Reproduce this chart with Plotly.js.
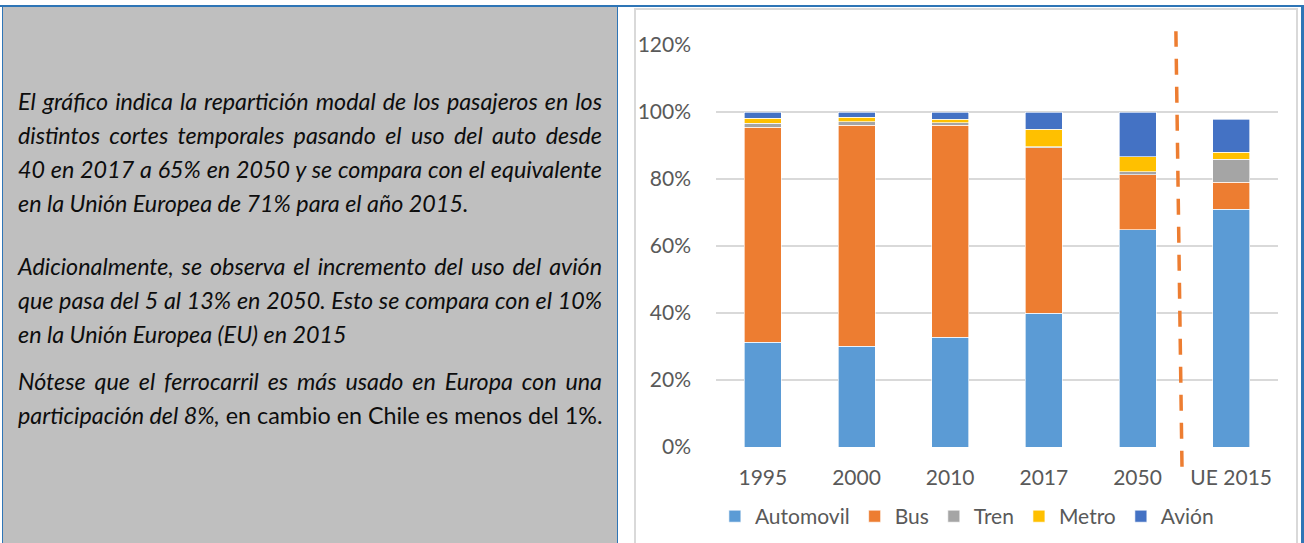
<!DOCTYPE html>
<html>
<head>
<meta charset="utf-8">
<script src="https://cdn.plot.ly/plotly-3.0.1.min.js"></script>
<style>
  html, body { margin:0; padding:0; background:#ffffff; }
  #wrap { position:relative; width:1304px; height:543px; overflow:hidden; background:#ffffff; }
  .bg { position:absolute; }
  #topline { left:0; top:5px; width:1304px; height:2px; background:#2E75B6; }
  #panel { left:2px; top:7px; width:614px; height:540px; background:#BFBFBF; border-left:1.5px solid #2E75B6; border-right:1.5px solid #2E75B6; }
  #chartbox { left:634px; top:8px; width:660px; height:540px; border:2px solid #D9D9D9; background:#ffffff; }
  #rightline { left:1301px; top:5px; width:3px; height:538px; background:#2E75B6; }
  #plot { position:absolute; left:0; top:0; width:1304px; height:543px; }
  .ln { position:absolute; left:18px; width:584px; height:34px; line-height:34px;
        font-family: Lato, "Open Sans", sans-serif; font-size:23.3px; color:#0d0d0d;
        font-style:italic; text-align:justify; text-align-last:justify; white-space:nowrap; }
  .ln.last { text-align:left; text-align-last:left; }
  .up { font-style:normal; }
</style>
</head>
<body>
<div id="wrap">
  <div class="bg" id="topline"></div>
  <div class="bg" id="panel"></div>
  <div class="bg" id="chartbox"></div>
  <div class="bg" id="rightline"></div>
  <div id="plot"></div>
  <div class="ln" style="top:84px">El gráfico indica la repartición modal de los pasajeros en los</div>
  <div class="ln" style="top:118px">distintos cortes temporales pasando el uso del auto desde</div>
  <div class="ln" style="top:152px">40 en 2017 a 65% en 2050 y se compara con el equivalente</div>
  <div class="ln last" style="top:186px">en la Unión Europea de 71% para el año 2015.</div>
  <div class="ln" style="top:249px">Adicionalmente, se observa el incremento del uso del avión</div>
  <div class="ln" style="top:283px">que pasa del 5 al 13% en 2050. Esto se compara con el 10%</div>
  <div class="ln last" style="top:317px">en la Unión Europea (EU) en 2015</div>
  <div class="ln" style="top:364px">Nótese que el ferrocarril es más usado en Europa con una</div>
  <div class="ln last" style="top:398px">participación del 8%,<span class="up"> en cambio en Chile es menos del 1%.</span></div>
</div>
<script>
const categories = ['1995', '2000', '2010', '2017', '2050', 'UE 2015'];
const automovil = [0.312, 0.301, 0.327, 0.400, 0.648, 0.709];
const bus       = [0.643, 0.660, 0.634, 0.494, 0.165, 0.081];
const tren      = [0.011, 0.010, 0.007, 0.003, 0.008, 0.069];
const metro     = [0.016, 0.013, 0.011, 0.051, 0.045, 0.021];
const avion     = [0.018, 0.016, 0.021, 0.052, 0.134, 0.099];
const yTicks = [0, 0.2, 0.4, 0.6, 0.8, 1.0, 1.2];
const yTickLabels = ['0%', '20%', '40%', '60%', '80%', '100%', '120%'];

const seriesNames = ['Automovil', 'Bus', 'Tren', 'Metro', 'Avión'];
const seriesValues = [automovil, bus, tren, metro, avion];
const seriesColors = ['#5B9BD5', '#ED7D31', '#A5A5A5', '#FFC000', '#4472C4'];

const traces = seriesNames.map((n, i) => ({
  type: 'bar', name: n, x: categories, y: seriesValues[i],
  marker: { color: seriesColors[i], line: { color: 'rgba(255,255,255,0.8)', width: 0.8 } },
  hoverinfo: 'skip'
}));

const fontFam = 'Lato, "Open Sans", sans-serif';
const layout = {
  width: 1304, height: 543,
  margin: { l: 716, r: 26, t: 44.7, b: 95.7, pad: 0, autoexpand: false },
  paper_bgcolor: 'rgba(0,0,0,0)', plot_bgcolor: 'rgba(0,0,0,0)',
  barmode: 'stack', bargap: 0.605,
  showlegend: true,
  legend: { orientation: 'h', x: -0.002, xanchor: 'left', y: -0.173, yanchor: 'middle',
            font: { family: fontFam, size: 21, color: '#595959' }, traceorder: 'normal',
            bgcolor: 'rgba(0,0,0,0)' },
  xaxis: { type: 'category', tickfont: { family: fontFam, size: 21, color: '#595959' },
           showgrid: false, zeroline: false, showline: false, ticks: '', ticklabelstandoff: 16 },
  yaxis: { range: [0, 1.2], tickvals: yTicks, ticktext: yTickLabels,
           tickfont: { family: fontFam, size: 21, color: '#595959' },
           showgrid: true, gridcolor: '#D9D9D9', gridwidth: 1.5, zeroline: false, showline: false,
           ticks: '', ticklabelstandoff: 24 },
  shapes: [{
    type: 'line', xref: 'x', yref: 'paper', x0: 4.475, x1: 4.41, y0: -0.049, y1: 1.034,
    line: { color: '#ED7D31', width: 3.5, dash: '16px,12px' }, layer: 'above'
  }]
};
Plotly.newPlot('plot', traces, layout, { displayModeBar: false, staticPlot: true });
</script>
</body>
</html>
